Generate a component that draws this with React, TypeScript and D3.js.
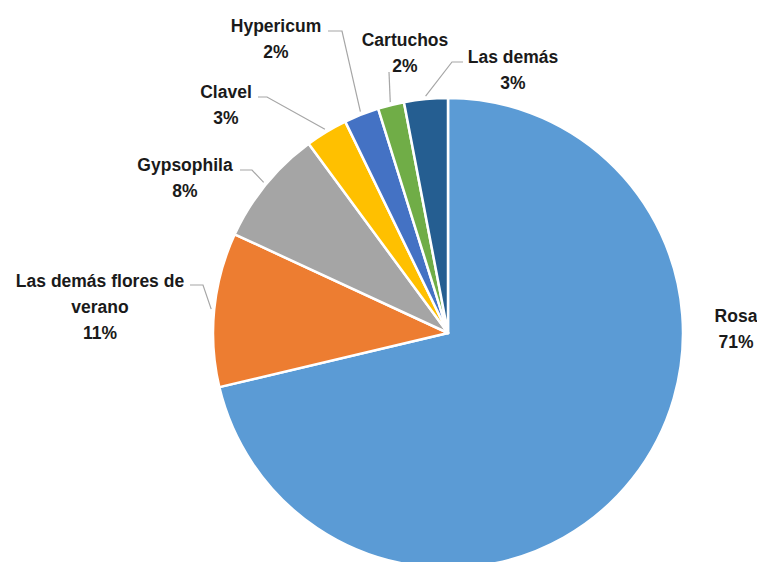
import React, { useEffect, useRef } from 'react';
import * as d3 from 'd3';

const WIDTH = 757;
const HEIGHT = 562;

// slice order: clockwise from 12 o'clock
const categories = ['Rosa', 'Las demás flores de verano', 'Gypsophila', 'Clavel', 'Hypericum', 'Cartuchos', 'Las demás'];
const shares = [71.3, 10.6, 8.0, 2.9, 2.4, 1.8, 3.0];
const pctLabels = ['71%', '11%', '8%', '3%', '2%', '2%', '3%'];
const colors = ['#5B9BD5', '#ED7D31', '#A5A5A5', '#FFC000', '#4472C4', '#70AD47', '#255E91'];
const labelLines = [['Rosa'], ['Las demás flores de', 'verano'], ['Gypsophila'], ['Clavel'], ['Hypericum'], ['Cartuchos'], ['Las demás']];

// label placement: text centre x, first baseline, leader start and elbow (null = no leader)
const LABEL_POS = [
  { x: 736, y: 321.5, lead: null },
  { x: 100, y: 287, lead: [[190, 285], [203, 285]] },
  { x: 185, y: 170.5, lead: [[240, 170], [252, 170]] },
  { x: 226, y: 97.5, lead: [[258, 97], [267, 97]] },
  { x: 276, y: 31.5, lead: [[328, 31], [342, 31]] },
  { x: 405, y: 46, lead: [[389, 72], [389, 72]] },
  { x: 513, y: 63, lead: [[463, 62], [452, 62]] },
];

const CX = 448;
const CY = 333;
const R = 235;
const LINE_H = 26;

export default function App() {
  const ref = useRef<SVGSVGElement>(null);

  useEffect(() => {
    const svg = d3.select(ref.current);
    svg.selectAll('*').remove();

    const data = categories.map((c, i) => ({ name: c, value: shares[i], i }));
    const pie = d3.pie<any>().value(d => d.value).sort(null);
    const arcs = pie(data);
    const arc = d3.arc<any>().innerRadius(0).outerRadius(R);
    const outer = d3.arc<any>().innerRadius(R + 3).outerRadius(R + 3);

    const g = svg.append('g').attr('transform', `translate(${CX},${CY})`);
    g.selectAll('path')
      .data(arcs)
      .join('path')
      .attr('d', arc)
      .attr('fill', d => colors[d.data.i])
      .attr('stroke', '#fff')
      .attr('stroke-width', 2.5)
      .attr('stroke-linejoin', 'round');

    // leader lines
    arcs.forEach(a => {
      const p = LABEL_POS[a.data.i];
      if (!p.lead) return;
      const [ex, ey] = outer.centroid(a);
      const pts: [number, number][] = [p.lead[0] as any, p.lead[1] as any, [ex + CX, ey + CY]];
      svg.append('path')
        .attr('d', d3.line()(pts))
        .attr('fill', 'none')
        .attr('stroke', '#A6A6A6')
        .attr('stroke-width', 1.2);
    });

    // labels
    const lg = svg.append('g')
      .attr('font-family', '"Liberation Sans", Arial, sans-serif')
      .attr('font-weight', 'bold')
      .attr('font-size', 17.5)
      .attr('fill', '#1a1a1a')
      .attr('text-anchor', 'middle');

    data.forEach(d => {
      const p = LABEL_POS[d.i];
      const lines = [...labelLines[d.i], pctLabels[d.i]];
      lines.forEach((t, k) => {
        lg.append('text')
          .attr('x', p.x)
          .attr('y', p.y + k * LINE_H)
          .text(t);
      });
    });
  }, []);

  return (
    <svg
      ref={ref}
      width={WIDTH}
      height={HEIGHT}
      style={{ position: 'absolute', left: 0, top: 0, background: '#fff' }}
    />
  );
}
